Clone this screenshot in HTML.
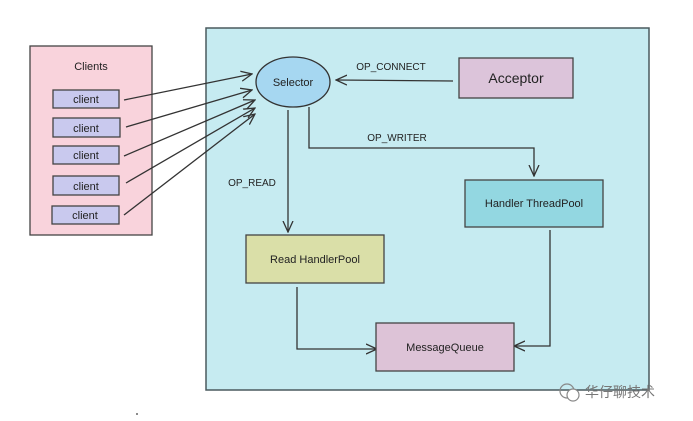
<!DOCTYPE html>
<html><head><meta charset="utf-8"><style>
html,body{margin:0;padding:0;background:#fff;width:693px;height:421px;overflow:hidden}
svg{display:block}
text{font-family:"Liberation Sans","Noto Sans CJK SC",sans-serif;fill:#222}
</style></head><body>
<svg width="693" height="421" viewBox="0 0 693 421" xmlns="http://www.w3.org/2000/svg">
<defs>
<marker id="a" markerWidth="12" markerHeight="12" refX="11" refY="6" orient="auto" markerUnits="userSpaceOnUse">
<path d="M0,1 L11,6 L0,11" fill="none" stroke="#333" stroke-width="1.3"/>
</marker>
</defs>
<rect x="206" y="28" width="443" height="362" fill="#c6ebf1" stroke="#4a5a5e" stroke-width="1.5"/>
<rect x="30" y="46" width="122" height="189" fill="#f9d3dc" stroke="#444" stroke-width="1.3"/>
<text x="91" y="70" font-size="11" text-anchor="middle">Clients</text>
<g fill="#c9c9ee" stroke="#444" stroke-width="1.3">
<rect x="53" y="90" width="66" height="18"/>
<rect x="53" y="118" width="67" height="19"/>
<rect x="53" y="146" width="66" height="18"/>
<rect x="53" y="176" width="66" height="19"/>
<rect x="52" y="206" width="67" height="18"/>
</g>
<g font-size="11" text-anchor="middle">
<text x="86" y="103">client</text>
<text x="86" y="132">client</text>
<text x="86" y="159">client</text>
<text x="86" y="190">client</text>
<text x="85" y="219">client</text>
</g>
<g stroke="#333" stroke-width="1.3" fill="none" marker-end="url(#a)">
<line x1="124" y1="100" x2="252" y2="74"/>
<line x1="126" y1="127" x2="252" y2="90"/>
<line x1="124" y1="156" x2="255" y2="100"/>
<line x1="126" y1="183" x2="255" y2="108"/>
<line x1="124" y1="215" x2="255" y2="114"/>
<line x1="453" y1="81" x2="336" y2="80"/>
<polyline points="309,107 309,148 534,148 534,176"/>
<line x1="288" y1="110" x2="288" y2="232"/>
<polyline points="297,287 297,349 377,349"/>
<polyline points="550,230 550,346 514,346"/>
</g>
<ellipse cx="293" cy="82" rx="37" ry="25" fill="#a6d7f1" stroke="#333" stroke-width="1.3"/>
<text x="293" y="86" font-size="11" text-anchor="middle">Selector</text>
<rect x="459" y="58" width="114" height="40" fill="#dcc4da" stroke="#444" stroke-width="1.3"/>
<text x="516" y="83" font-size="14" text-anchor="middle">Acceptor</text>
<rect x="465" y="180" width="138" height="47" fill="#93d7e1" stroke="#444" stroke-width="1.3"/>
<text x="534" y="207" font-size="11" text-anchor="middle">Handler ThreadPool</text>
<rect x="246" y="235" width="138" height="48" fill="#dadfa8" stroke="#444" stroke-width="1.3"/>
<text x="315" y="263" font-size="11" text-anchor="middle">Read HandlerPool</text>
<rect x="376" y="323" width="138" height="48" fill="#ddc3d7" stroke="#444" stroke-width="1.3"/>
<text x="445" y="351" font-size="11" text-anchor="middle">MessageQueue</text>
<g font-size="10" text-anchor="middle">
<text x="391" y="70">OP_CONNECT</text>
<text x="397" y="141">OP_WRITER</text>
<text x="252" y="186">OP_READ</text>
</g>
<circle cx="567" cy="391" r="7" fill="none" stroke="#888" stroke-width="1.2"/>
<circle cx="573" cy="395" r="6" fill="#fff" stroke="#888" stroke-width="1.2"/>
<text x="585" y="397" font-size="14" style="fill:#777">华仔聊技术</text>
<circle cx="137" cy="414" r="1" fill="#666"/>
</svg>
</body></html>
